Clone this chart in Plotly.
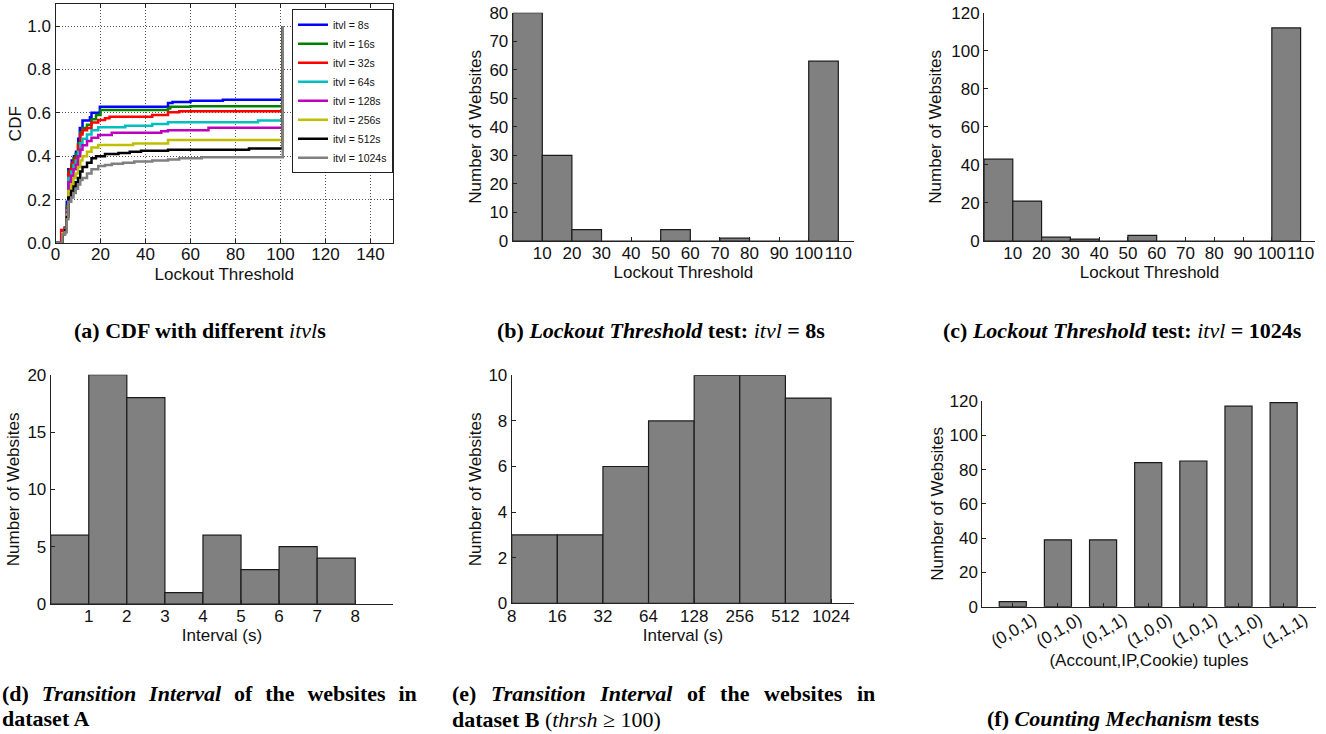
import plotly.graph_objects as go

W, H = 1326, 734

# ---------------- data ----------------
cdf_labels = ["itvl = 8s", "itvl = 16s", "itvl = 32s", "itvl = 64s",
              "itvl = 128s", "itvl = 256s", "itvl = 512s", "itvl = 1024s"]
cdf_colors = ["#0000ff", "#008000", "#ff0000", "#00bfbf",
              "#bf00bf", "#bfbf00", "#000000", "#808080"]
cdf_x_8 = [0, 3, 4.2, 5, 5.7, 7.2, 8.2, 9.1, 10.1, 10.8, 12, 15.3, 16, 19.7, 50, 52, 60, 74.4, 101]
cdf_y_8 = [0, 0.05, 0.07, 0.19, 0.34, 0.38, 0.40, 0.42, 0.48, 0.53, 0.565, 0.58, 0.60, 0.628, 0.645, 0.65, 0.655, 0.66, 1.0]
cdf_x_16 = [0, 3, 4.2, 5, 5.7, 7, 8, 9, 10, 11, 12, 14, 16, 18, 20, 50, 51, 60, 101]
cdf_y_16 = [0, 0.05, 0.07, 0.17, 0.33, 0.36, 0.39, 0.41, 0.46, 0.51, 0.53, 0.545, 0.57, 0.59, 0.613, 0.62, 0.628, 0.63, 1.0]
cdf_x_32 = [0, 2.5, 4, 5, 5.7, 6.5, 7.5, 8.5, 10, 11, 12, 14, 16, 19, 22, 24, 43, 50, 55, 101]
cdf_y_32 = [0, 0.06, 0.07, 0.16, 0.32, 0.34, 0.37, 0.39, 0.45, 0.50, 0.52, 0.53, 0.555, 0.567, 0.575, 0.582, 0.59, 0.602, 0.607, 1.0]
cdf_x_64 = [0, 3, 4.2, 5, 5.7, 7, 8, 9, 10, 11, 12, 14, 16, 19, 31, 43, 50, 90, 101]
cdf_y_64 = [0, 0.05, 0.065, 0.15, 0.30, 0.33, 0.36, 0.38, 0.42, 0.46, 0.48, 0.50, 0.52, 0.533, 0.54, 0.548, 0.556, 0.565, 1.0]
cdf_x_128 = [0, 3, 4.2, 5, 5.7, 7, 8, 9, 10, 11, 12, 14, 16, 19, 25, 47, 50, 68, 101]
cdf_y_128 = [0, 0.05, 0.06, 0.14, 0.28, 0.31, 0.34, 0.36, 0.40, 0.43, 0.45, 0.47, 0.485, 0.498, 0.508, 0.515, 0.52, 0.531, 1.0]
cdf_x_256 = [0, 3, 4.2, 5, 5.7, 7, 8, 9, 10, 11, 12, 14, 16, 19, 34.5, 50, 101]
cdf_y_256 = [0, 0.045, 0.06, 0.13, 0.24, 0.27, 0.30, 0.32, 0.35, 0.38, 0.40, 0.42, 0.44, 0.452, 0.459, 0.475, 1.0]
cdf_x_512 = [0, 3, 4.2, 5, 5.7, 7, 8, 9, 10, 11, 12, 14, 16, 18, 22, 28, 33, 38, 50, 86, 101]
cdf_y_512 = [0, 0.04, 0.06, 0.12, 0.21, 0.24, 0.26, 0.28, 0.30, 0.33, 0.35, 0.37, 0.39, 0.40, 0.41, 0.415, 0.42, 0.425, 0.43, 0.435, 1.0]
cdf_x_1024 = [0, 3, 4.2, 5, 5.7, 7, 8, 9, 10, 11, 12, 14, 16, 19, 22, 25, 30, 35, 43, 50, 55, 65, 101]
cdf_y_1024 = [0, 0.04, 0.05, 0.11, 0.19, 0.21, 0.23, 0.25, 0.27, 0.29, 0.30, 0.32, 0.34, 0.355, 0.36, 0.365, 0.37, 0.375, 0.38, 0.385, 0.39, 0.395, 1.0]
cdf_xs = [cdf_x_8, cdf_x_16, cdf_x_32, cdf_x_64, cdf_x_128, cdf_x_256, cdf_x_512, cdf_x_1024]
cdf_ys = [cdf_y_8, cdf_y_16, cdf_y_32, cdf_y_64, cdf_y_128, cdf_y_256, cdf_y_512, cdf_y_1024]

thr_edges = [0, 10, 20, 30, 40, 50, 60, 70, 80, 90, 100, 110]
thr_counts_8s = [80, 30, 4, 0, 0, 4, 0, 1, 0, 0, 63]
thr_counts_1024s = [43, 21, 2, 1, 0, 3, 0, 0, 0, 0, 112]
thr_ticks = [10, 20, 30, 40, 50, 60, 70, 80, 90, 100, 110]

int_a_edges = [0, 1, 2, 3, 4, 5, 6, 7, 8]
int_a_counts = [6, 20, 18, 1, 6, 3, 5, 4]

int_b_labels = ["8", "16", "32", "64", "128", "256", "512", "1024"]
int_b_counts = [3, 3, 6, 8, 10, 10, 9]

tuple_labels = ["(0,0,1)", "(0,1,0)", "(0,1,1)", "(1,0,0)", "(1,0,1)", "(1,1,0)", "(1,1,1)"]
tuple_counts = [3, 39, 39, 84, 85, 117, 119]

# ---------------- helpers ----------------
def fx(p):
    return p / W

def fy(p):
    return 1 - p / H

SANS = "Liberation Sans, Arial, Helvetica, sans-serif"
SERIF = "Liberation Serif, Times New Roman, serif"
TXT = "#111111"
tickfont = dict(family=SANS, size=17, color=TXT)
titlefont = dict(family=SANS, size=17, color=TXT)
BAR_FILL = "#808080"
BAR_EDGE = "#1a1a1a"


def mid(edges):
    return [(edges[i] + edges[i + 1]) / 2 for i in range(len(edges) - 1)]


def widths(edges):
    return [edges[i + 1] - edges[i] for i in range(len(edges) - 1)]


def plain_axis(**kw):
    d = dict(showline=True, linecolor="#222222", linewidth=1, ticks="inside",
             ticklen=4, tickcolor="#222222", tickwidth=1, showgrid=False,
             zeroline=False, tickfont=tickfont, tickangle=0, automargin=False)
    d.update(kw)
    return d


fig = go.Figure()

for lab, col, xs, ys in zip(cdf_labels, cdf_colors, cdf_xs, cdf_ys):
    fig.add_trace(go.Scatter(x=xs, y=ys, mode="lines", name=lab,
                             line=dict(color=col, width=2.5, shape="hv"),
                             xaxis="x", yaxis="y"))

bar_marker = dict(color=BAR_FILL, line=dict(color=BAR_EDGE, width=1.2))
fig.add_trace(go.Bar(x=mid(thr_edges), y=thr_counts_8s, width=widths(thr_edges),
                     marker=bar_marker, showlegend=False, xaxis="x2", yaxis="y2"))
fig.add_trace(go.Bar(x=mid(thr_edges), y=thr_counts_1024s, width=widths(thr_edges),
                     marker=bar_marker, showlegend=False, xaxis="x3", yaxis="y3"))
fig.add_trace(go.Bar(x=mid(int_a_edges), y=int_a_counts, width=widths(int_a_edges),
                     marker=bar_marker, showlegend=False, xaxis="x4", yaxis="y4"))
e_pos = list(range(len(int_b_labels)))
fig.add_trace(go.Bar(x=mid(e_pos), y=int_b_counts, width=widths(e_pos),
                     marker=bar_marker, showlegend=False, xaxis="x5", yaxis="y5"))
f_pos = list(range(len(tuple_labels)))
fig.add_trace(go.Bar(x=f_pos, y=tuple_counts, width=0.6,
                     marker=bar_marker, showlegend=False, xaxis="x6", yaxis="y6"))

grid = dict(showgrid=True, gridcolor="#555555", gridwidth=1, griddash="1px,2px")

layout = dict(
    width=W, height=H, margin=dict(l=0, r=0, t=0, b=0, autoexpand=False),
    paper_bgcolor="white", plot_bgcolor="white",
    font=dict(family=SANS, size=17, color=TXT),
    barmode="overlay",
    showlegend=True,
    legend=dict(x=fx(292), y=fy(9.3), xanchor="left", yanchor="top",
                bgcolor="white", bordercolor="#222222", borderwidth=1,
                font=dict(family=SANS, size=10.5, color=TXT),
                itemwidth=30, tracegroupgap=0),
    xaxis=plain_axis(domain=[fx(55.5), fx(393)], range=[0, 150], anchor="y",
                     tickvals=list(range(0, 141, 20)), mirror="ticks", linewidth=1.2,
                     ticklabelstandoff=-5,
                     title=dict(text="Lockout Threshold", font=titlefont, standoff=5), **grid),
    yaxis=plain_axis(domain=[fy(243), fy(4.3)], range=[0, 1.1], anchor="x",
                     tickvals=[0, 0.2, 0.4, 0.6, 0.8, 1.0], tickformat=".1f",
                     mirror="ticks", linewidth=1.2,
                     title=dict(text="CDF", font=titlefont, standoff=1), **grid),
    xaxis2=plain_axis(domain=[fx(512.7), fx(854)], range=[0, 115.3], anchor="y2",
                      tickvals=thr_ticks, ticklabelstandoff=-3,
                      title=dict(text="Lockout Threshold", font=titlefont, standoff=3)),
    yaxis2=plain_axis(domain=[fy(241), fy(12.7)], range=[0, 80], anchor="x2",
                      tickvals=list(range(0, 81, 10)),
                      title=dict(text="Number of Websites", font=titlefont, standoff=3)),
    xaxis3=plain_axis(domain=[fx(984), fx(1315)], range=[0, 115], anchor="y3",
                      tickvals=thr_ticks, ticklabelstandoff=-3,
                      title=dict(text="Lockout Threshold", font=titlefont, standoff=3)),
    yaxis3=plain_axis(domain=[fy(241), fy(12.7)], range=[0, 120], anchor="x3",
                      tickvals=list(range(0, 121, 20)),
                      title=dict(text="Number of Websites", font=titlefont, standoff=5)),
    xaxis4=plain_axis(domain=[fx(50.7), fx(393.3)], range=[0, 9], anchor="y4",
                      tickvals=[1, 2, 3, 4, 5, 6, 7, 8], ticklabelstandoff=-3,
                      title=dict(text="Interval (s)", font=titlefont, standoff=0)),
    yaxis4=plain_axis(domain=[fy(604), fy(374.7)], range=[0, 20], anchor="x4",
                      tickvals=[0, 5, 10, 15, 20],
                      title=dict(text="Number of Websites", font=titlefont, standoff=3)),
    xaxis5=plain_axis(domain=[fx(511.7), fx(854.3)], range=[0, 7.51], anchor="y5",
                      tickvals=e_pos, ticktext=int_b_labels, ticklabelstandoff=-3,
                      title=dict(text="Interval (s)", font=titlefont, standoff=0)),
    yaxis5=plain_axis(domain=[fy(603.3), fy(375.3)], range=[0, 10], anchor="x5",
                      tickvals=[0, 2, 4, 6, 8, 10],
                      title=dict(text="Number of Websites", font=titlefont, standoff=2)),
    xaxis6=plain_axis(domain=[fx(982.3), fx(1315.7)], range=[-0.675, 6.71], anchor="y6",
                      tickvals=f_pos, ticktext=tuple_labels, tickangle=-30,
                      ticklabelshift=21, ticklabelstandoff=-4,
                      title=dict(text="(Account,IP,Cookie) tuples", font=titlefont, standoff=2)),
    yaxis6=plain_axis(domain=[fy(606.7), fy(401)], range=[0, 120], anchor="x6",
                      tickvals=list(range(0, 121, 20)),
                      title=dict(text="Number of Websites", font=titlefont, standoff=1)),
)
fig.update_layout(**layout)

G_D = "\u2002\u200a"
G_E = "\u2002\u2006"


def cap(text, x, y, xanchor="center"):
    fig.add_annotation(text=text, x=fx(x), y=fy(y), xref="paper", yref="paper",
                       xanchor=xanchor, yanchor="middle", showarrow=False,
                       font=dict(family=SERIF, size=22, color="#000000"))


def justified(lbl, g):
    return ("<b>" + lbl + g + "<i>Transition" + g + "Interval</i>" + g + "of" + g +
            "the" + g + "websites" + g + "in</b>")


cap("<b>(a) CDF with different </b><i>itvl</i><b>s</b>", 200, 331)
cap("<b>(b) <i>Lockout Threshold</i> test: </b><i>itvl</i><b> = 8s</b>", 661, 331)
cap("<b>(c) <i>Lockout Threshold</i> test: </b><i>itvl</i><b> = 1024s</b>", 1122.5, 331)
cap(justified("(d)", G_D), 0, 693.3, "left")
cap("<b>dataset A</b>", 0, 718.5, "left")
cap(justified("(e)", G_E), 450, 693.3, "left")
cap("<b>dataset B </b>(<i>thrsh</i> \u2265 100)", 450, 719.5, "left")
cap("<b>(f) <i>Counting Mechanism</i> tests</b>", 1122.5, 718.5)

fig.write_html("out.html", config={"displayModeBar": False},
               post_script="document.body.style.margin='0';document.body.style.overflow='hidden';")
